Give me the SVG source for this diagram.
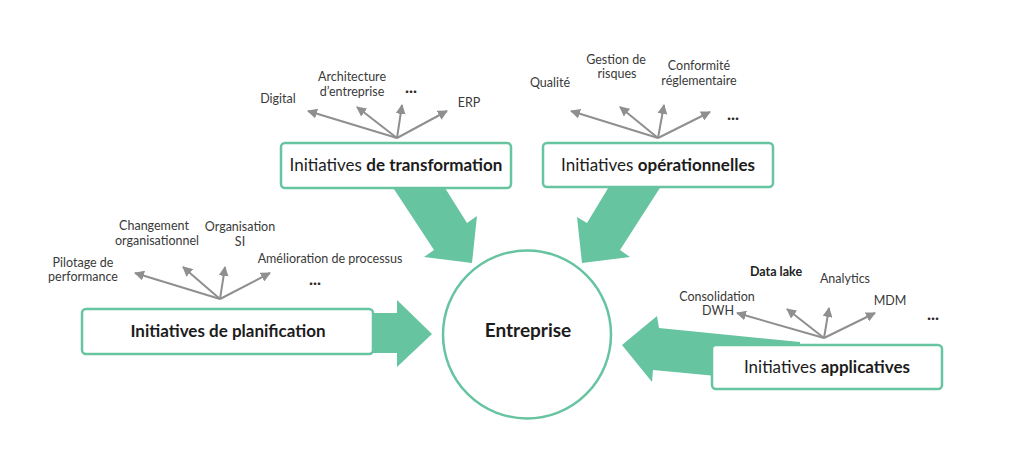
<svg xmlns="http://www.w3.org/2000/svg" width="1024" height="473" viewBox="0 0 1024 473">
<style>
.box{fill:#fff;stroke:#67C4A0;stroke-width:2.5}
.big{fill:#67C4A0}
.fan{stroke:#8f8f8f;stroke-width:2;fill:none;marker-end:url(#ah)}
.lbl{font-family:Lato,"Open Sans",sans-serif;font-size:12.5px;fill:#3a3a3a;text-anchor:middle}
.btx{font-family:Lato,"Open Sans",sans-serif;font-size:17px;fill:#1c1c1c;text-anchor:middle}
.dots{font-family:Lato,"Open Sans",sans-serif;font-size:17px;font-weight:bold;fill:#2a2a2a;text-anchor:middle}
</style>
<defs>
<marker id="ah" viewBox="0 0 10 10" refX="9" refY="5" markerWidth="5" markerHeight="5" orient="auto" markerUnits="strokeWidth">
<path d="M0,0 L10,5 L0,10 Z" fill="#8f8f8f"/>
</marker>
</defs>
<rect width="1024" height="473" fill="#fff"/>

<g id="connectors">
<polygon class="big" points="388,180 440,180 467,223 477,216 472,263 424,257 434,250"/>
<polygon class="big" points="613,180 665,180 620,250 630,257 582,263 577,217 587,223"/>
<polygon class="big" points="365,313 397,313 397,300 432,334 397,367 397,353 365,353"/>
<polygon class="big" points="800,342 659,328 657,316 622,345 652,382 653,370 800,384"/>
<path class="fan" d="M397,138 L308,111"/>
<path class="fan" d="M397,138 L357,107"/>
<path class="fan" d="M397,138 L402,105"/>
<path class="fan" d="M397,138 L447,111"/>
<path class="fan" d="M658,138 L571,111"/>
<path class="fan" d="M658,138 L620,107"/>
<path class="fan" d="M658,138 L664,105"/>
<path class="fan" d="M658,138 L710,112"/>
<path class="fan" d="M220,299 L135,273"/>
<path class="fan" d="M220,299 L183,267"/>
<path class="fan" d="M220,299 L225,267"/>
<path class="fan" d="M220,299 L270,273"/>
<path class="fan" d="M824,338 L737,313"/>
<path class="fan" d="M824,338 L787,309"/>
<path class="fan" d="M824,338 L829,308"/>
<path class="fan" d="M824,338 L875,313"/>
</g>

<g id="entreprise">
<circle cx="527" cy="334.5" r="84" fill="#fff" stroke="#67C4A0" stroke-width="2.5"/>
<text x="528" y="337" class="btx" style="font-size:19px;font-weight:bold">Entreprise</text>
</g>

<g id="transformation">
<rect class="box" x="281" y="143" width="230" height="45" rx="4"/>
<text x="396" y="171" class="btx">Initiatives <tspan font-weight="bold">de transformation</tspan></text>
<text x="278" y="103" class="lbl">Digital</text>
<text x="352" y="81" class="lbl">Architecture</text>
<text x="352" y="96" class="lbl">d’entreprise</text>
<text x="411" y="93" class="dots">...</text>
<text x="469" y="107" class="lbl">ERP</text>
</g>

<g id="operationnelles">
<rect class="box" x="543" y="143" width="230" height="44" rx="4"/>
<text x="658" y="171" class="btx">Initiatives <tspan font-weight="bold">opérationnelles</tspan></text>
<text x="550" y="87" class="lbl">Qualité</text>
<text x="616" y="64" class="lbl">Gestion de</text>
<text x="617" y="78" class="lbl">risques</text>
<text x="699" y="70" class="lbl">Conformité</text>
<text x="699" y="85" class="lbl">réglementaire</text>
<text x="733" y="120" class="dots">...</text>
</g>

<g id="planification">
<rect class="box" x="82" y="309" width="291" height="45" rx="4"/>
<text x="228" y="337" class="btx" font-weight="bold">Initiatives de planification</text>
<text x="83" y="267" class="lbl">Pilotage de</text>
<text x="83" y="281" class="lbl">performance</text>
<text x="154" y="230" class="lbl">Changement</text>
<text x="157" y="245" class="lbl">organisationnel</text>
<text x="240" y="231" class="lbl">Organisation</text>
<text x="240" y="246" class="lbl">SI</text>
<text x="330" y="263" class="lbl">Amélioration de processus</text>
<text x="315" y="285" class="dots">...</text>
</g>

<g id="applicatives">
<rect class="box" x="712" y="345" width="230" height="44" rx="4"/>
<text x="827" y="373" class="btx">Initiatives <tspan font-weight="bold">applicatives</tspan></text>
<text x="776" y="276" class="lbl" font-weight="bold" style="fill:#222">Data lake</text>
<text x="845" y="283" class="lbl">Analytics</text>
<text x="717" y="301" class="lbl">Consolidation</text>
<text x="718" y="315" class="lbl">DWH</text>
<text x="890" y="305" class="lbl">MDM</text>
<text x="933" y="320" class="dots">...</text>
</g>
</svg>
